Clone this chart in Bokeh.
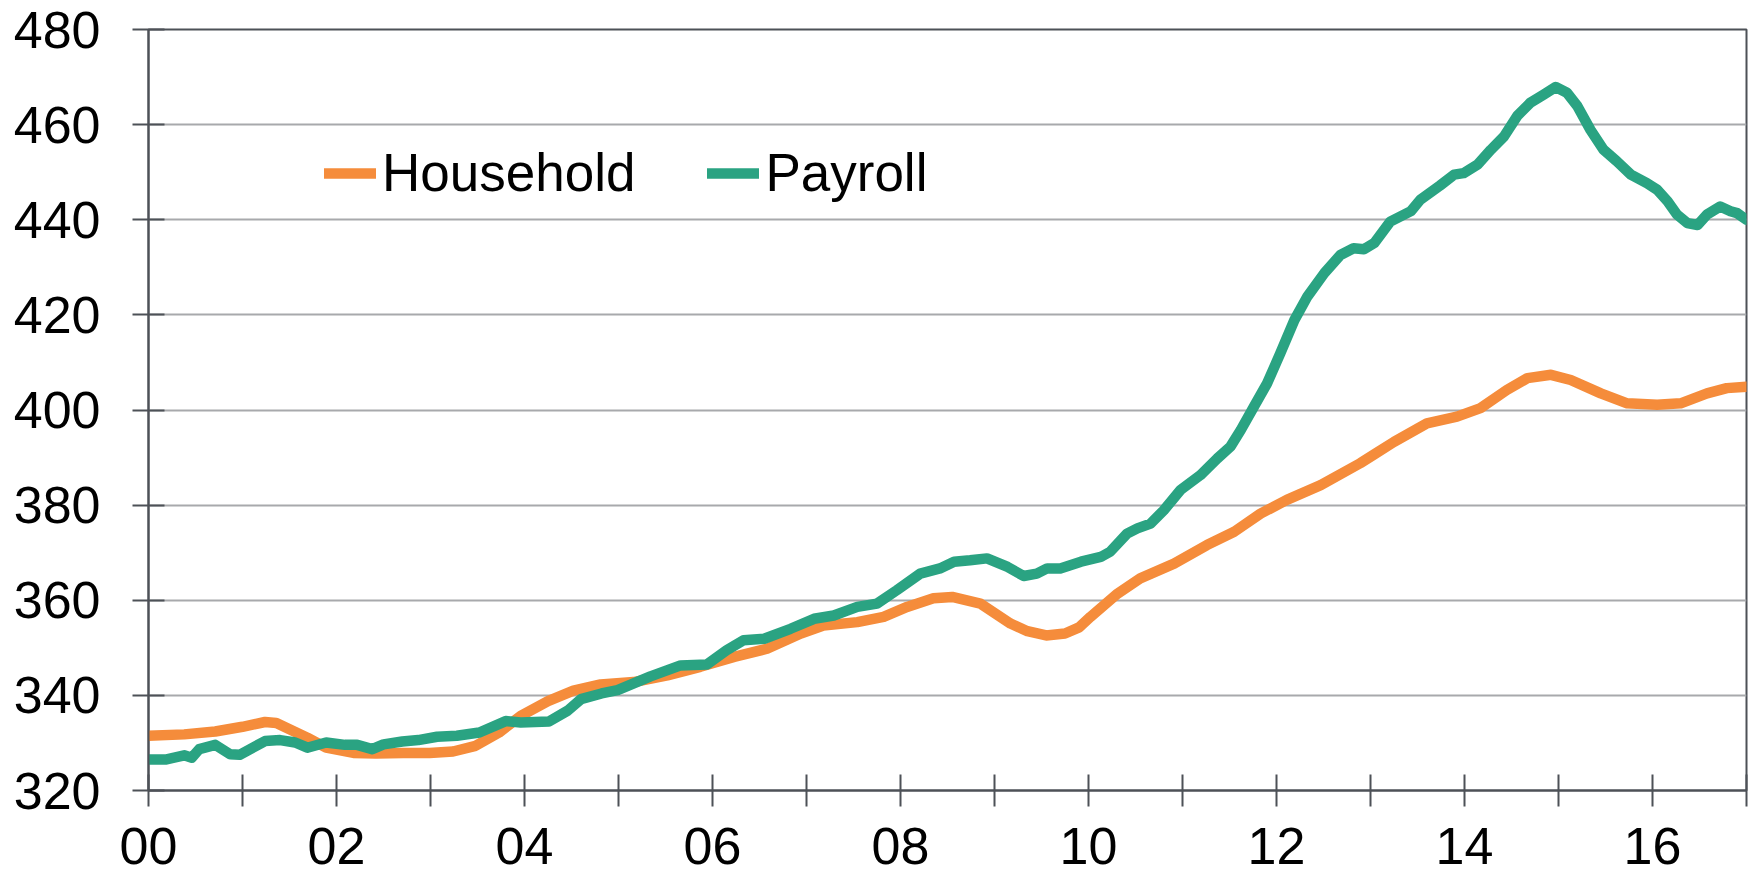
from bokeh.plotting import figure
from bokeh.models import FixedTicker, Legend, LegendItem, ColumnDataSource
from bokeh.embed import file_html
from bokeh.resources import INLINE

# ---- data ----
household_t = [2000.0, 2000.38, 2000.71, 2001.0, 2001.24, 2001.36, 2001.69, 2001.89, 2002.18, 2002.42,
               2002.71, 2002.99, 2003.24, 2003.48, 2003.73, 2003.96, 2004.25, 2004.52, 2004.81, 2005.16,
               2005.52, 2005.87, 2006.23, 2006.58, 2006.94, 2007.18, 2007.54, 2007.82, 2008.07, 2008.35,
               2008.55, 2008.85, 2009.17, 2009.35, 2009.55, 2009.75, 2009.9, 2010.02, 2010.31, 2010.55,
               2010.91, 2011.26, 2011.55, 2011.83, 2012.11, 2012.47, 2012.89, 2013.05, 2013.25, 2013.6,
               2013.92, 2014.17, 2014.45, 2014.67, 2014.92, 2015.13, 2015.45, 2015.73, 2016.05, 2016.3,
               2016.58, 2016.79, 2017.0]
household_v = [331.5, 331.8, 332.4, 333.4, 334.4, 334.2, 331.1, 329.0, 327.9, 327.8,
               327.9, 327.9, 328.2, 329.4, 332.2, 335.7, 338.8, 341.0, 342.3, 342.8,
               344.2, 346.0, 348.1, 349.8, 353.0, 354.7, 355.4, 356.5, 358.6, 360.4,
               360.7, 359.3, 355.1, 353.5, 352.6, 353.0, 354.3, 356.5, 361.4, 364.6,
               367.7, 371.6, 374.4, 378.2, 381.1, 384.2, 388.8, 390.8, 393.3, 397.2,
               398.6, 400.4, 404.2, 406.7, 407.4, 406.3, 403.5, 401.4, 401.1, 401.4,
               403.5, 404.6, 404.9]

payroll_t = [2000.0, 2000.18, 2000.38, 2000.46, 2000.54, 2000.71, 2000.87, 2000.97, 2001.24, 2001.4,
             2001.56, 2001.69, 2001.89, 2002.09, 2002.22, 2002.38, 2002.5, 2002.7, 2002.87, 2003.07,
             2003.28, 2003.52, 2003.8, 2003.96, 2004.26, 2004.46, 2004.6, 2004.82, 2004.99, 2005.34,
             2005.66, 2005.94, 2006.15, 2006.33, 2006.55, 2006.83, 2007.08, 2007.29, 2007.54, 2007.75,
             2007.96, 2008.21, 2008.42, 2008.57, 2008.74, 2008.92, 2009.14, 2009.31, 2009.45, 2009.56,
             2009.7, 2009.92, 2010.13, 2010.23, 2010.41, 2010.52, 2010.66, 2010.8, 2010.98, 2011.19,
             2011.37, 2011.51, 2011.62, 2011.76, 2011.9, 2012.04, 2012.19, 2012.33, 2012.51, 2012.68,
             2012.82, 2012.93, 2013.04, 2013.21, 2013.43, 2013.53, 2013.74, 2013.89, 2013.99, 2014.14,
             2014.28, 2014.42, 2014.56, 2014.7, 2014.84, 2014.97, 2015.09, 2015.2, 2015.34, 2015.48,
             2015.62, 2015.77, 2015.94, 2016.05, 2016.16, 2016.26, 2016.37, 2016.48, 2016.58, 2016.72,
             2016.83, 2016.9, 2017.0]
payroll_v = [326.5, 326.5, 327.4, 326.9, 328.7, 329.6, 327.6, 327.5, 330.4, 330.6,
             330.1, 329.0, 330.1, 329.6, 329.6, 328.7, 329.7, 330.3, 330.6, 331.3,
             331.5, 332.2, 334.6, 334.3, 334.5, 336.8, 339.2, 340.4, 341.1, 344.0,
             346.3, 346.5, 349.5, 351.6, 351.9, 354.0, 356.1, 356.8, 358.6, 359.3,
             362.1, 365.6, 366.7, 368.1, 368.4, 368.8, 367.0, 365.1, 365.6, 366.7,
             366.7, 368.1, 369.1, 370.2, 374.0, 375.1, 376.1, 378.9, 383.2, 386.3,
             389.8, 392.3, 395.8, 400.7, 405.6, 411.9, 418.9, 423.9, 428.8, 432.6,
             434.0, 433.8, 435.1, 439.6, 441.8, 444.2, 447.2, 449.5, 449.8, 451.6,
             454.7, 457.5, 461.8, 464.6, 466.3, 467.9, 466.7, 463.9, 458.9, 454.7,
             452.3, 449.5, 447.7, 446.3, 443.9, 441.1, 439.3, 438.9, 441.1, 442.8,
             441.8, 441.4, 440.0]

series_names = ["Household", "Payroll"]
series_colors = ["#F58C3B", "#2AA382"]

x_ticks = list(range(2000, 2018))
x_tick_labels = {y: (f"{y % 100:02d}" if y % 2 == 0 and y < 2017 else "") for y in x_ticks}
y_ticks = [320, 340, 360, 380, 400, 420, 440, 460, 480]

FONT = "Liberation Sans"
AXIS_COL = "#4D5157"
GRID_COL = "#A8A9AC"

p = figure(width=1752, height=874, x_range=(2000, 2017), y_range=(320, 480),
           output_backend="svg", toolbar_location=None,
           min_border_left=148, min_border_right=6, min_border_top=29, min_border_bottom=84)
p.background_fill_color = "white"
p.border_fill_color = "white"
p.outline_line_color = AXIS_COL
p.outline_line_width = 2

p.xgrid.grid_line_color = None
p.ygrid.grid_line_color = GRID_COL
p.ygrid.grid_line_width = 2

for ax in (p.xaxis[0], p.yaxis[0]):
    ax.axis_line_color = AXIS_COL
    ax.axis_line_width = 2
    ax.major_tick_line_color = AXIS_COL
    ax.major_tick_line_width = 2
    ax.major_tick_in = 16
    ax.major_tick_out = 16
    ax.minor_tick_line_color = None
    ax.major_label_text_font = FONT
    ax.major_label_text_font_size = "52px"
    ax.major_label_text_color = "black"

p.xaxis.ticker = FixedTicker(ticks=x_ticks)
p.xaxis.major_label_overrides = x_tick_labels
p.xaxis.major_label_standoff = 21
p.yaxis.ticker = FixedTicker(ticks=y_ticks)
p.yaxis.major_label_standoff = 32
p.ygrid.ticker = FixedTicker(ticks=y_ticks)

src_h = ColumnDataSource(dict(x=household_t, y=household_v))
src_p = ColumnDataSource(dict(x=payroll_t, y=payroll_v))
r_h = p.line("x", "y", source=src_h, line_color=series_colors[0], line_width=10.5,
             line_cap="round", line_join="round")
r_p = p.line("x", "y", source=src_p, line_color=series_colors[1], line_width=10.5,
             line_cap="round", line_join="round")

legend = Legend(items=[LegendItem(label=series_names[0], renderers=[r_h]),
                       LegendItem(label=series_names[1], renderers=[r_p])],
                orientation="horizontal", location=(176, 587),
                label_text_font=FONT, label_text_font_size="53px", label_text_color="black",
                glyph_width=52, glyph_height=40, label_standoff=6, spacing=72,
                padding=0, margin=0, background_fill_alpha=0, border_line_alpha=0)
p.add_layout(legend, "center")

open("out.html", "w").write(file_html(p, INLINE))
